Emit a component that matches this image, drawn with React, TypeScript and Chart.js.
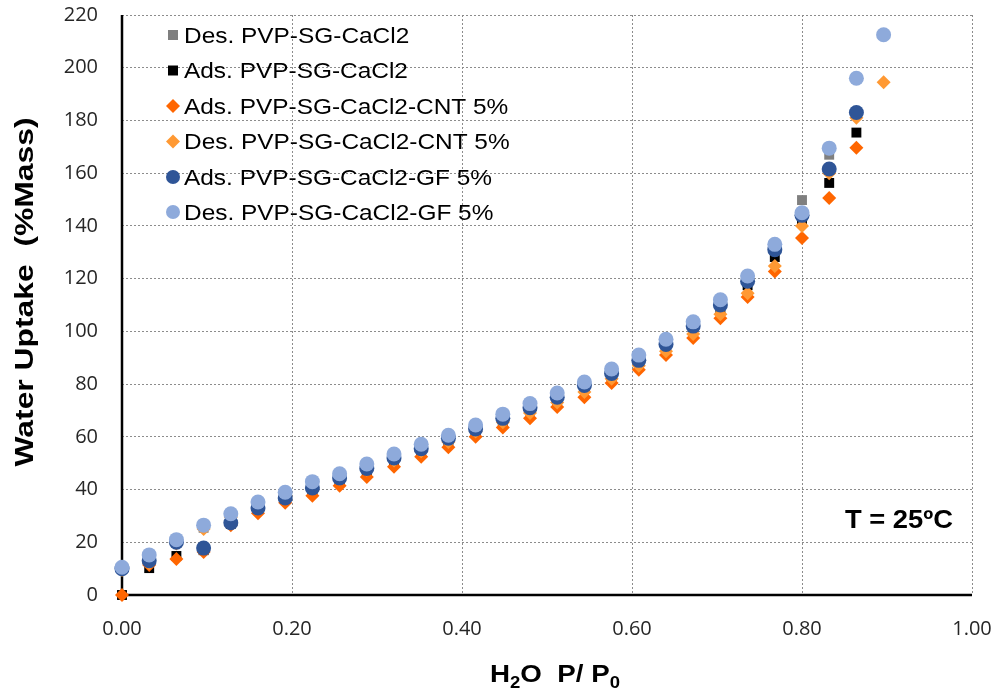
import React, { useEffect, useRef } from 'react';
import { Chart, registerables } from 'chart.js';

Chart.register(...registerables);

// Relative pressure P/P0 (shared x values)
const pressure = [
  0, 0.032, 0.064, 0.096, 0.128, 0.16, 0.192, 0.224, 0.256, 0.288, 0.32, 0.352, 0.384, 0.416,
  0.448, 0.48, 0.512, 0.544, 0.576, 0.608, 0.64, 0.672, 0.704, 0.736, 0.768, 0.8, 0.832, 0.864, 0.896,
];

const desPvp = [
  10, 14, 20, 25.5, 30, 34.5, 38.5, 42, 45.5, 49, 52.5, 56.5, 60, 63.5, 67.5, 71.5, 75.5, 80, 85, 90,
  96, 103, 111, 120, 132, 149.8, 167, 196,
];
const adsPvp = [
  0, 10.2, 14.8, 17, 27, 32.5, 36.5, 40, 43.5, 47, 51, 54.5, 58.5, 62, 66, 70, 74, 78.5, 83, 88.4,
  93.5, 100.5, 108.5, 117.5, 128.2, 141.6, 156.3, 175.4,
];
const adsCnt = [
  0, 11.4, 13.7, 16.3, 26.5, 31, 35, 37.6, 41.4, 44.8, 48.6, 52.4, 56, 60, 63.5, 67, 71.3, 75, 80.4,
  85.4, 91, 97.5, 105, 113, 122.7, 135.4, 150.6, 169.6,
];
const desCnt = [
  9.5, 12, 19.5, 25, 29.5, 33.5, 37.5, 41, 44, 47.5, 51, 54.5, 58, 62, 65.5, 69, 73, 77, 82, 87, 92.5,
  99, 106.5, 114.5, 124.8, 140, 160, 181, 194.5,
];
const adsGf = [
  10, 13, 20, 17.8, 27.4, 33, 36.8, 40.6, 44.4, 48, 52, 55.5, 59.5, 63, 67, 71, 75, 79.5, 84, 89, 95,
  102, 110, 119, 131, 144, 161.6, 183,
];
const desGf = [
  10.5, 15.2, 21, 26.5, 30.8, 35.3, 39, 43, 46, 49.7, 53.5, 57.2, 60.6, 64.5, 68.6, 72.6, 76.6, 80.8,
  85.7, 91, 97, 103.6, 112, 121, 133, 145, 169.5, 196, 212.5,
];

const xTickValues = [0, 0.2, 0.4, 0.6, 0.8, 1.0];
const yTickStep = 20;
const yMax = 220;

const seriesLabels = [
  'Des. PVP-SG-CaCl2',
  'Ads. PVP-SG-CaCl2',
  'Ads. PVP-SG-CaCl2-CNT 5%',
  'Des. PVP-SG-CaCl2-CNT 5%',
  'Ads. PVP-SG-CaCl2-GF 5%',
  'Des. PVP-SG-CaCl2-GF 5%',
];
const seriesColors = ['#7f7f7f', '#000000', '#ff6600', '#ff9933', '#2f5597', '#8eaadb'];
const seriesStyles = ['rect', 'rect', 'rectRot', 'rectRot', 'circle', 'circle'];
const seriesValues = [desPvp, adsPvp, adsCnt, desCnt, adsGf, desGf];

const annotationText = 'T = 25ºC';

function toPoints(ys: number[]) {
  return ys.map((y, i) => ({ x: pressure[i], y }));
}

function radiusFor(style: string) {
  if (style === 'rect') return 7;
  if (style === 'rectRot') return 7;
  return 7.5;
}

function drawMarker(ctx: CanvasRenderingContext2D, style: string, color: string, x: number, y: number) {
  ctx.save();
  ctx.fillStyle = color;
  ctx.beginPath();
  if (style === 'rect') {
    const h = 5;
    ctx.rect(x - h, y - h, 2 * h, 2 * h);
  } else if (style === 'rectRot') {
    const r = 7;
    ctx.moveTo(x, y - r);
    ctx.lineTo(x + r, y);
    ctx.lineTo(x, y + r);
    ctx.lineTo(x - r, y);
    ctx.closePath();
  } else {
    ctx.arc(x, y, 7, 0, Math.PI * 2);
  }
  ctx.fill();
  ctx.restore();
}

const axisLinePlugin = {
  id: 'axisLinePlugin',
  beforeDatasetsDraw(chart: any) {
    const ctx: CanvasRenderingContext2D = chart.ctx;
    const a = chart.chartArea;
    ctx.save();
    ctx.strokeStyle = '#000';
    ctx.lineWidth = 2.5;
    ctx.setLineDash([]);
    ctx.beginPath();
    ctx.moveTo(a.left, a.top);
    ctx.lineTo(a.left, a.bottom);
    ctx.lineTo(a.right, a.bottom);
    ctx.stroke();
    ctx.restore();
  },
};

const overlayPlugin = {
  id: 'overlayPlugin',
  afterDraw(chart: any) {
    const ctx: CanvasRenderingContext2D = chart.ctx;
    ctx.save();
    ctx.fillStyle = '#000';
    ctx.textBaseline = 'alphabetic';

    // Legend (inside plot area, top-left)
    const legendFont = '22px "Liberation Sans", Arial, sans-serif';
    const rowY = [35, 70.5, 106, 141.5, 177, 212];
    for (let i = 0; i < seriesLabels.length; i++) {
      drawMarker(ctx, seriesStyles[i], seriesColors[i], 173, rowY[i]);
      ctx.save();
      ctx.font = legendFont;
      ctx.textAlign = 'left';
      ctx.translate(184, rowY[i] + 7.5);
      ctx.scale(1.11, 1);
      ctx.fillText(seriesLabels[i], 0, 0);
      ctx.restore();
    }

    // Annotation
    ctx.save();
    ctx.font = 'bold 25px "Liberation Sans", Arial, sans-serif';
    const aw = ctx.measureText(annotationText).width;
    ctx.translate(845, 528);
    ctx.scale(108 / aw, 1);
    ctx.textAlign = 'left';
    ctx.fillText(annotationText, 0, 0);
    ctx.restore();

    // Y axis title
    ctx.save();
    const yTitle = 'Water Uptake  (%Mass)';
    ctx.font = 'bold 25px "Liberation Sans", Arial, sans-serif';
    const yw = ctx.measureText(yTitle).width;
    ctx.translate(33, 292);
    ctx.rotate(-Math.PI / 2);
    ctx.scale(349 / yw, 1);
    ctx.textAlign = 'center';
    ctx.fillText(yTitle, 0, 0);
    ctx.restore();

    // X axis title with subscripts
    ctx.save();
    const big = 'bold 24px "Liberation Sans", Arial, sans-serif';
    const small = 'bold 16px "Liberation Sans", Arial, sans-serif';
    const parts: [string, string, number][] = [
      ['H', big, 0],
      ['2', small, 6],
      ['O  P/ P', big, 0],
      ['0', small, 6],
    ];
    let total = 0;
    for (const [t, f] of parts) {
      ctx.font = f;
      total += ctx.measureText(t).width;
    }
    const sx = 130 / total;
    ctx.translate(490, 682);
    ctx.scale(sx, 1);
    ctx.textAlign = 'left';
    let cx = 0;
    for (const [t, f, dy] of parts) {
      ctx.font = f;
      ctx.fillText(t, cx, dy);
      cx += ctx.measureText(t).width;
    }
    ctx.restore();

    ctx.restore();
  },
};

export default function App() {
  const canvasRef = useRef<HTMLCanvasElement | null>(null);

  useEffect(() => {
    document.body.style.margin = '0';
    const canvas = canvasRef.current;
    if (!canvas) return;

    const order = [5, 4, 3, 2, 1, 0];
    const datasets = order.map((k) => ({
      label: seriesLabels[k],
      data: toPoints(seriesValues[k]),
      showLine: false,
      clip: false,
      pointStyle: seriesStyles[k],
      pointRadius: radiusFor(seriesStyles[k]),
      pointHoverRadius: radiusFor(seriesStyles[k]),
      pointBackgroundColor: seriesColors[k],
      pointBorderColor: seriesColors[k],
      pointBorderWidth: 0,
      backgroundColor: seriesColors[k],
      borderColor: seriesColors[k],
    }));

    const chart = new Chart(canvas, {
      type: 'scatter',
      data: { datasets },
      plugins: [axisLinePlugin, overlayPlugin],
      options: {
        responsive: false,
        animation: false,
        devicePixelRatio: 1,
        layout: { padding: { top: 15, right: 23, left: 0, bottom: 0 } },
        plugins: {
          legend: { display: false },
          tooltip: { enabled: false },
          title: { display: false },
        },
        scales: {
          x: {
            type: 'linear',
            min: xTickValues[0],
            max: xTickValues[xTickValues.length - 1],
            afterFit: (scale: any) => {
              scale.height = 97;
              scale.paddingLeft = 0;
              scale.paddingRight = 0;
              scale.paddingTop = 0;
              scale.paddingBottom = 0;
            },
            afterBuildTicks: (scale: any) => {
              scale.ticks = xTickValues.map((v) => ({ value: v }));
            },
            ticks: {
              padding: 22,
              color: '#262626',
              font: { family: '"Open Sans", sans-serif', size: 20 },
              callback: (v: any) => Number(v).toFixed(2),
            },
            grid: {
              color: '#8c8c8c',
              lineWidth: 1,
              drawTicks: false,
            },
            border: { display: false, dash: [2, 2] },
          },
          y: {
            type: 'linear',
            min: 0,
            max: yMax,
            afterFit: (scale: any) => {
              scale.width = 122;
              scale.paddingLeft = 0;
              scale.paddingRight = 0;
              scale.paddingTop = 0;
              scale.paddingBottom = 0;
            },
            ticks: {
              stepSize: yTickStep,
              padding: 24,
              color: '#262626',
              font: { family: '"Open Sans", sans-serif', size: 20 },
            },
            grid: {
              color: '#8c8c8c',
              lineWidth: 1,
              drawTicks: false,
            },
            border: { display: false, dash: [2, 2] },
          },
        },
      },
    });

    return () => {
      chart.destroy();
    };
  }, []);

  return (
    <div style={{ width: 995, height: 692, background: '#ffffff' }}>
      <canvas ref={canvasRef} width={995} height={692} />
    </div>
  );
}
